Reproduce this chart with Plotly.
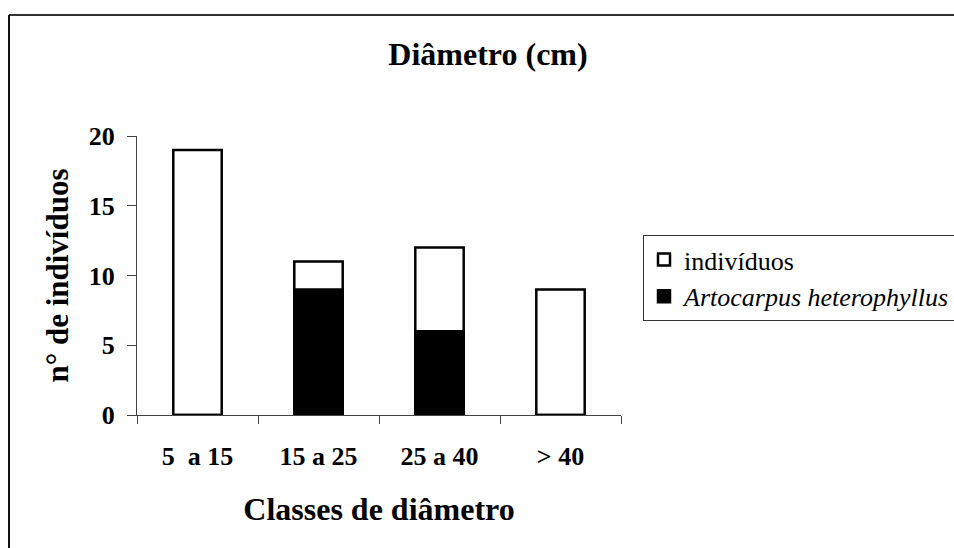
import plotly.graph_objects as go

categories = ["5  a 15", "15 a 25", "25 a 40", "> 40"]
individuos = [19, 11, 12, 9]
artocarpus = [0, 9, 6, 0]
y_ticks = [0, 5, 10, 15, 20]

FONT = "Liberation Serif, Times New Roman, serif"

fig = go.Figure()
fig.add_trace(go.Bar(
    x=categories, y=individuos, name="indivíduos",
    marker=dict(color="white", line=dict(color="black", width=2.5)),
))
fig.add_trace(go.Bar(
    x=categories, y=artocarpus, name="<i>Artocarpus heterophyllus</i>",
    marker=dict(color="black", line=dict(color="black", width=2.5)),
))

# plot area pixels: x 137..621, y 136..415
L, R, T, B = 137, 621, 136, 415
W, H = R - L, B - T
def px(x):
    return (x - L) / W
def py(y):
    return (B - y) / H

fig.update_layout(
    width=954, height=548,
    margin=dict(l=L, r=954 - R, t=T, b=548 - B, autoexpand=False),
    paper_bgcolor="white", plot_bgcolor="white",
    barmode="overlay", bargap=0.6,
    font=dict(family=FONT, color="black"),
    title=dict(text="Diâmetro (cm)", x=488 / 954, xanchor="center",
               y=1 - 54 / 548, yanchor="middle",
               font=dict(size=32, weight="bold", family=FONT)),
    xaxis=dict(
        showline=True, linecolor="#444", linewidth=1,
        ticks="outside", tickson="boundaries", ticklen=8, tickcolor="#444",
        tickfont=dict(size=26, weight="bold", family=FONT),
        ticklabelstandoff=18,
        title=dict(text="Classes de diâmetro", font=dict(size=32, weight="bold", family=FONT), standoff=27),
        showgrid=False,
    ),
    yaxis=dict(
        range=[0, 20], tickvals=y_ticks,
        showline=True, linecolor="#444", linewidth=1,
        ticks="outside", ticklen=9, tickcolor="#444",
        tickfont=dict(size=26, weight="bold", family=FONT),
        ticklabelstandoff=7,
        title=dict(text="n° de indivíduos", font=dict(size=31, weight="bold", family=FONT), standoff=10),
        showgrid=False, zeroline=False,
    ),
    legend=dict(
        x=px(643), y=py(235), xanchor="left", yanchor="top",
        bordercolor="#333", borderwidth=1, bgcolor="white",
        font=dict(size=26, family=FONT),
        traceorder="normal",
    ),
    shapes=[
        dict(type="line", xref="paper", yref="paper",
             x0=px(9), x1=px(1000), y0=py(15), y1=py(15),
             line=dict(color="#333", width=2)),
        dict(type="line", xref="paper", yref="paper",
             x0=px(9), x1=px(9), y0=py(15), y1=py(600),
             line=dict(color="#111", width=2)),
    ],
)

fig.write_html(
    "out.html",
    config={"displayModeBar": False},
    post_script="document.body.style.margin='0';document.body.style.overflow='hidden';",
)
